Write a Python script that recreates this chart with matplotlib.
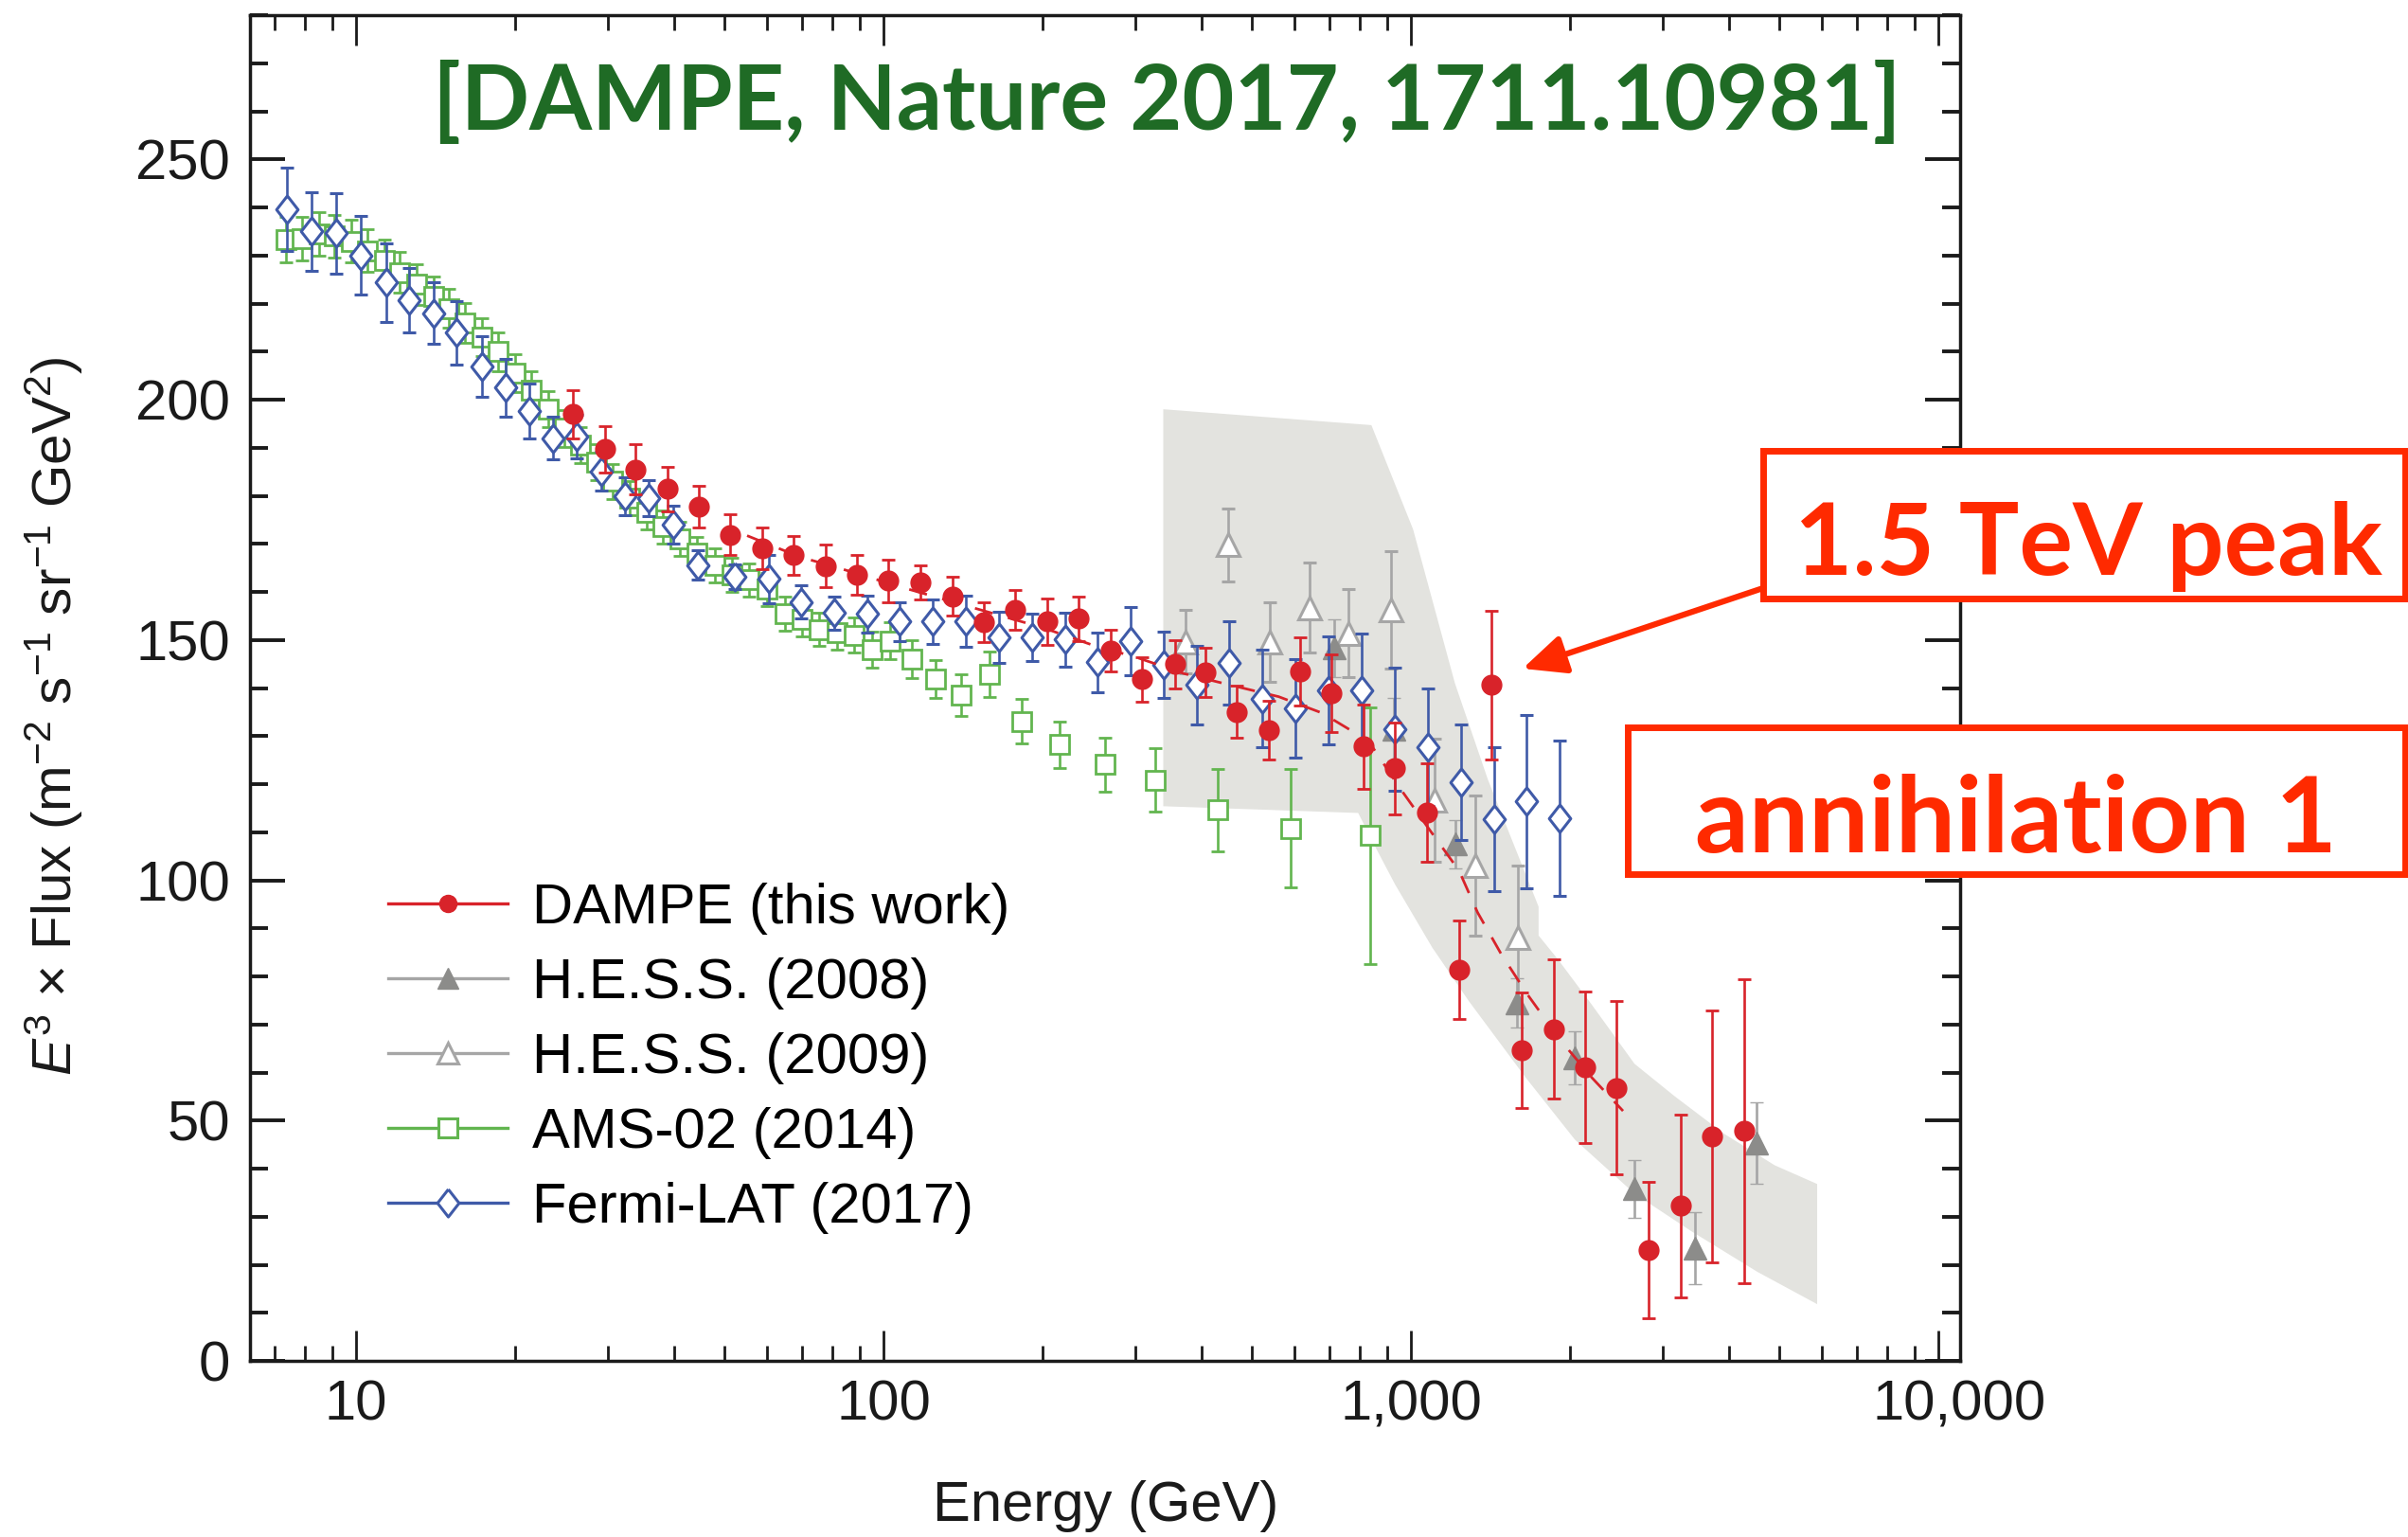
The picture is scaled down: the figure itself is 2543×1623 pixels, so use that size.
import numpy as np
import matplotlib
matplotlib.use('Agg')
import matplotlib.pyplot as plt
from matplotlib.lines import Line2D
from matplotlib.patches import Rectangle, FancyArrowPatch
from matplotlib.transforms import ScaledTranslation
from matplotlib.ticker import FixedLocator, FuncFormatter, MultipleLocator, LogLocator, NullFormatter

plt.rcParams['font.family'] = ['Liberation Sans', 'DejaVu Sans']
plt.rcParams['mathtext.fontset'] = 'custom'
plt.rcParams['mathtext.rm'] = 'Liberation Sans'
plt.rcParams['mathtext.it'] = 'Liberation Sans:italic'

# ---- data (E in GeV, E^3 x flux) ----
dampe_E = [25.8, 29.6, 33.9, 38.9, 44.6, 51.2, 58.9, 67.6, 77.6, 89.1,
           102.2, 117.5, 134.9, 154.7, 177.4, 203.9, 234.4, 269.5, 309.0, 356.5,
           407.4, 467.7, 537.0, 616.6, 706.3, 812.8, 933.3, 1074, 1232, 1419,
           1622, 1862, 2138, 2455, 2825, 3243, 3724, 4276]
dampe_F = [197.0, 189.7, 185.5, 181.4, 177.7, 171.9, 169.1, 167.6, 165.4, 163.6,
           162.3, 162.0, 159.1, 153.7, 156.3, 153.8, 154.4, 147.8, 141.8, 145.0,
           143.2, 135.0, 131.2, 143.4, 138.9, 127.8, 123.3, 114.1, 81.4, 140.6,
           64.7, 69.0, 61.1, 56.8, 23.0, 32.3, 46.7, 47.8]
dampe_err = [5.0, 4.8, 5.2, 4.7, 4.3, 4.2, 4.3, 4.1, 4.5, 4.1,
             4.4, 3.6, 4.1, 4.2, 4.1, 4.9, 4.6, 4.4, 4.7, 5.0,
             5.1, 5.4, 6.1, 7.1, 8.0, 8.7, 9.6, 10.3, 10.3, 15.5,
             12.0, 14.5, 15.7, 18.0, 14.2, 19.0, 26.3, 31.6]

fit_E = [55.1, 69.3, 83.2, 108, 150, 201, 248, 303, 371, 451, 561, 678,
         830, 955, 1076, 1233, 1337, 1483, 1663, 1914, 2203, 2523]
fit_F = [171.7, 167.3, 164.8, 161.0, 156.5, 152.5, 149.0, 146.3, 143.0, 140.7, 138.2, 134.8,
         129.0, 119.0, 111.0, 102.0, 93.3, 84.6, 76.2, 66.9, 58.9, 52.0]

hess08_E = [716, 929, 1216, 1585, 2042, 2655, 3451, 4519]
hess08_F = [148.3, 131.5, 107.5, 74.5, 63.1, 35.8, 23.4, 45.3]
hess08_err = [6.0, 6.5, 5.0, 5.2, 5.5, 6.0, 7.5, 8.5]

hess09_E = [373, 450, 540, 641, 762, 918, 1109, 1324, 1592]
hess09_F = [149.6, 169.8, 149.6, 156.7, 151.4, 156.2, 116.7, 103.0, 88.0]
hess09_err = [6.6, 7.6, 8.3, 9.4, 9.2, 12.2, 12.8, 14.6, 15.0]

ams_E = [7.36, 7.9, 8.5, 9.1, 9.8, 10.5, 11.3, 12.1, 13.0, 14.0,
         15.0, 16.1, 17.3, 18.6, 20.0, 21.5, 23.1, 24.8, 26.6, 28.6,
         30.7, 33.0, 35.5, 38.2, 41.1, 44.3, 47.8, 51.5, 55.6, 60.2,
         65.0, 70.0, 75.5, 81.5, 88.0, 95.0, 103, 113, 125.3, 140.1,
         158.9, 182.8, 215.8, 262.4, 327, 429.4, 590.4, 835.6]
ams_F = [233.3, 233.5, 234.5, 234.0, 233.0, 231.0, 229.0, 226.5, 224.0, 221.5,
         219.0, 216.0, 213.0, 210.0, 205.5, 202.0, 198.0, 194.0, 190.5, 187.0,
         183.0, 179.5, 176.5, 173.5, 171.0, 168.0, 165.5, 163.5, 162.5, 160.5,
         155.5, 154.2, 152.2, 151.5, 151.0, 148.0, 149.8, 146.0, 141.9, 138.5,
         142.8, 133.1, 128.2, 124.1, 120.8, 114.6, 110.8, 109.3]
ams_err = [4.7, 4.6, 4.5, 4.5, 4.4, 4.4, 4.3, 4.3, 4.2, 4.2,
           4.1, 4.1, 4.0, 4.0, 3.9, 3.9, 3.8, 3.8, 3.7, 3.7,
           3.6, 3.6, 3.5, 3.5, 3.5, 3.5, 3.5, 3.5, 3.5, 3.5,
           3.5, 3.5, 3.5, 3.5, 3.6, 3.7, 3.8, 3.9, 4.0, 4.4,
           4.7, 4.7, 4.9, 5.6, 6.6, 8.5, 12.3, 26.7]

fermi_E = [7.38, 8.24, 9.18, 10.2, 11.4, 12.6, 14.0, 15.5, 17.3, 19.2,
           21.3, 23.6, 26.2, 29.1, 32.3, 35.9, 39.9, 44.5, 52.3, 60.5,
           69.8, 80.5, 93.1, 107.4, 123.8, 143.3, 165.5, 191.4, 220.7, 254.4,
           293.8, 339.6, 392.6, 452.6, 523, 604.4, 698.5, 807, 930, 1076,
           1244, 1435, 1657, 1912]
fermi_F = [239.6, 235.0, 234.6, 230.0, 224.4, 220.7, 218.0, 213.9, 206.9, 202.5,
           197.6, 192.0, 192.3, 185.1, 179.9, 179.5, 174.0, 165.6, 163.2, 162.7,
           157.9, 155.6, 155.4, 153.8, 153.8, 153.9, 150.6, 150.6, 150.1, 145.4,
           149.8, 144.9, 140.6, 145.2, 137.8, 135.8, 139.5, 139.5, 131.4, 127.7,
           120.4, 112.7, 116.4, 112.9]
fermi_err = [8.7, 8.2, 8.4, 8.2, 8.2, 6.7, 6.4, 6.6, 6.4, 6.0,
             5.7, 4.4, 4.5, 4.0, 4.0, 3.8, 3.9, 3.0, 2.6, 5.0,
             3.5, 3.4, 3.8, 4.0, 4.6, 5.3, 5.3, 4.9, 5.6, 6.2,
             7.1, 6.9, 8.2, 8.7, 10.1, 10.3, 11.3, 11.9, 12.8, 12.3,
             12.1, 15.0, 18.0, 16.2]

# H.E.S.S. systematic band outline (upper edge then lower edge back)
band_E = [339, 841, 1009, 1211, 1398, 1745, 1745, 1900, 2198, 2653, 3157, 3929, 4890, 5888,
          5888, 4539, 3397, 2653, 2046, 1648, 1288, 1097, 933, 855, 794, 339]
band_F = [198.0, 194.7, 173.0, 141.0, 121.0, 94.5, 88.5, 83.5, 74.2, 61.8, 55.1, 47.2, 40.7, 36.8,
          11.8, 18.5, 27.0, 34.8, 46.0, 59.0, 74.8, 86.0, 99.1, 107.0, 114.0, 115.4]

labels = ['DAMPE (this work)', 'H.E.S.S. (2008)', 'H.E.S.S. (2009)', 'AMS-02 (2014)', 'Fermi-LAT (2017)']

red = '#D8232A'
blue = '#3F5AA8'
green = '#62B54F'
grey_f = '#8C8C8A'
grey_o = '#A6A6A6'
band_c = '#E3E3DF'
note_red = '#FF2A00'

W, H = 2543, 1623
fig = plt.figure(figsize=(W / 100, H / 100), dpi=100)
ax = fig.add_axes([264 / W, 1 - 1437 / H, (2070 - 264) / W, (1437 - 16) / H])

ax.fill(band_E, band_F, color=band_c, lw=0, zorder=0)

diamond = [(0, 1), (0.78, 0), (0, -1), (-0.78, 0), (0, 1)]
eb = dict(elinewidth=1.9, capsize=4.8, capthick=2.0, ls='none')

ax.errorbar(ams_E, ams_F, yerr=ams_err, marker='s', ms=15, mfc='white', mec=green, mew=2,
            ecolor=green, zorder=2, **eb)
ax.errorbar(hess09_E, hess09_F, yerr=hess09_err, marker='^', ms=17, mfc='white', mec=grey_o, mew=2.2,
            ecolor=grey_o, zorder=3, **eb)
ax.errorbar(hess08_E, hess08_F, yerr=hess08_err, marker='^', ms=17, mfc=grey_f, mec=grey_f, mew=1,
            ecolor=grey_o, zorder=3, **eb)
ax.errorbar(fermi_E, fermi_F, yerr=fermi_err, marker=diamond, ms=21, mfc='white', mec=blue, mew=2.2,
            ecolor=blue, zorder=4, **eb)
ax.plot(fit_E, fit_F, color=red, lw=2, ls=(0, (7, 6)), zorder=5)
ax.errorbar(dampe_E, dampe_F, yerr=dampe_err, marker='o', ms=15, mfc=red, mec=red,
            ecolor=red, zorder=6, **eb)

ax.set_xscale('log')
ax.set_xlim(6.29, 10990)
ax.set_ylim(0, 280)
ax.xaxis.set_major_locator(FixedLocator([10, 100, 1000, 10000]))
ax.xaxis.set_major_formatter(FuncFormatter(lambda v, p: f'{int(round(v)):,}'))
ax.xaxis.set_minor_locator(LogLocator(base=10, subs=np.arange(2, 10) * 1.0, numticks=50))
ax.xaxis.set_minor_formatter(NullFormatter())
ax.yaxis.set_major_locator(MultipleLocator(50))
ax.yaxis.set_minor_locator(MultipleLocator(10))
ax.tick_params(which='both', direction='in', top=True, right=True, colors='#1a1a1a', labelsize=43)
ax.tick_params(axis='x', which='major', length=23, width=2, pad=14)
ax.tick_params(axis='x', which='minor', length=11.5, width=2)
ax.tick_params(axis='y', which='major', length=26.5, width=2.8, pad=15)
ax.tick_params(axis='y', which='minor', length=14, width=2.8)
for s in ax.spines.values():
    s.set_linewidth(2.5)
    s.set_color('#1a1a1a')

fig.text(1168 / W, 1 - 1591 / H, 'Energy (GeV)', ha='center', va='center', fontsize=43, color='#1a1a1a')
fig.text(57 / W, 1 - 756 / H, r'$E^3$ × Flux (m$^{-2}$ s$^{-1}$ sr$^{-1}$ GeV$^2$)',
         ha='center', va='center', rotation=90, fontsize=42, color='#1a1a1a')

handles = [
    Line2D([], [], color=red, lw=2.4, marker='o', ms=13, mfc=red, mec=red),
    Line2D([], [], color=grey_o, lw=2.4, marker='^', ms=16, mfc=grey_f, mec=grey_f),
    Line2D([], [], color=grey_o, lw=2.4, marker='^', ms=16, mfc='white', mec=grey_o, mew=2.2),
    Line2D([], [], color=green, lw=2.4, marker='s', ms=14, mfc='white', mec=green, mew=2.2),
    Line2D([], [], color=blue, lw=2.4, marker=diamond, ms=21, mfc='white', mec=blue, mew=2.2),
]
ax.legend(handles, labels, loc='center left', bbox_to_anchor=(0.081, 0.225), frameon=False,
          fontsize=43, handlelength=2.1, handletextpad=0.44, labelspacing=0.40,
          borderpad=0, borderaxespad=0)

# annotations on top of the figure
title = fig.text(457 / W, 1 - 137 / H, '[DAMPE, Nature 2017, 1711.10981]', ha='left', va='baseline',
                 fontsize=70, fontweight='bold', color='#1F6B25', family='Lato')

for (x0, y0, x1, y1) in [(1862, 476, 2540, 632), (1719, 768, 2540, 923)]:
    fig.add_artist(Rectangle((x0 / W, 1 - y1 / H), (x1 - x0) / W, (y1 - y0) / H,
                             transform=fig.transFigure, facecolor='white', edgecolor=note_red,
                             lw=5, zorder=10))

t1 = fig.text(1895 / W, 1 - 607 / H, '1.5 TeV peak', ha='left', va='baseline', fontsize=70,
              fontweight='bold', color=note_red, family='Lato', zorder=11)
t2 = fig.text(1790 / W, 1 - 900 / H, 'annihilation 1', ha='left', va='baseline', fontsize=70,
              fontweight='bold', color=note_red, family='Lato', zorder=11)

fig.add_artist(FancyArrowPatch((1862 / W, 1 - 621 / H), (1608 / W, 1 - 706 / H),
                               transform=fig.transFigure,
                               arrowstyle='-|>,head_length=0.55,head_width=0.25',
                               mutation_scale=50, lw=4.5, color=note_red,
                               shrinkA=0, shrinkB=0, zorder=11))

# scale the big annotation texts to the widths seen in the picture
fig.canvas.draw()
r = fig.canvas.get_renderer()
for t, target in [(title, 1551), (t1, 621), (t2, 678)]:
    w = t.get_window_extent(r).width
    t.set_fontsize(t.get_fontsize() * target / w)

# the "10,000" label sits a little right of its tick in the original
lab = ax.xaxis.get_major_ticks()[3].label1
lab.set_transform(lab.get_transform() + ScaledTranslation(0.22, 0, fig.dpi_scale_trans))

fig.savefig('out.png', dpi=100)
